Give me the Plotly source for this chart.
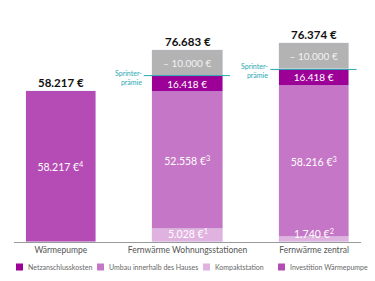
import plotly.graph_objects as go

# ---------------- data ----------------
categories = ["Wärmepumpe", "Fernwärme Wohnungsstationen", "Fernwärme zentral"]
investition_wp = [58217, None, None]
kompaktstation = [None, 5028, 1740]
umbau_haus = [None, 52558, 58216]
netzanschluss = [None, 16418, 16418]
sprinterpraemie = [None, 10000, 10000]
totals = [58217, 76683, 76374]
invest_note = [4, None, None]
umbau_note = [None, 3, 3]
kompakt_note = [None, 1, 2]

legend_names = ["Netzanschlusskosten", "Umbau innerhalb des Hauses",
                "Kompaktstation", "Investition Wärmepumpe"]

# ---------------- style ----------------
C_NETZ = "#9c0096"
C_UMBAU = "#c676c6"
C_KOMPAKT = "#e0b2e0"
C_WP = "#b54cb5"
C_GRAY = "#b3b3b3"
C_TEAL = "#2aa8b3"
FONT = "Lato"

W, H = 375, 281
ML, MR, MT, MB = 14, 14, 0, 39
PW, PH = W - ML - MR, H - MT - MB


def eur(v):
    return f"{v:,}".replace(",", ".") + " €"


def px_x(px):
    return (px - ML) / PW


def px_y(py):
    return (H - MB - py) / PH


x_all = list(range(len(categories)))
z = lambda v: 0 if v is None else v
netz_net = [None if n is None else n - s for n, s in zip(netzanschluss, sprinterpraemie)]
stack_top = [z(a) + z(b) + z(c) + z(d) + z(e) for a, b, c, d, e in
             zip(investition_wp, kompaktstation, umbau_haus, netz_net, sprinterpraemie)]
sprinter_level = [z(b) + z(c) + z(d) for b, c, d in zip(kompaktstation, umbau_haus, netz_net)]

BW = 0.555
fig = go.Figure()


def add_series(values, color, name, labels=None, font=None):
    idx = [i for i, v in enumerate(values) if v is not None]
    kw = dict(x=idx, y=[values[i] for i in idx], marker_color=color, name=name,
              width=BW, showlegend=False, hoverinfo="skip")
    if labels is not None:
        kw.update(text=[labels[i] for i in idx], textposition="inside",
                  insidetextanchor="middle", constraintext="none", textangle=0,
                  textfont=font)
    else:
        kw.update(textposition="none")
    fig.add_trace(go.Bar(**kw))


lab_font = lambda s, c="white": dict(color=c, size=s, family=FONT)

add_series(kompaktstation, C_KOMPAKT, legend_names[2])
add_series(umbau_haus, C_UMBAU, legend_names[1],
           [None if v is None else f"{eur(v)}<sup>{n}</sup>" for v, n in zip(umbau_haus, umbau_note)],
           lab_font(10.5))
add_series(netz_net, C_NETZ, legend_names[0],
           [None if v is None else eur(v) for v in netzanschluss], lab_font(10))
add_series(sprinterpraemie, C_GRAY, "Sprinterprämie",
           [None if v is None else "– " + eur(v) for v in sprinterpraemie], lab_font(10, "#f2f2f2"))
add_series(investition_wp, C_WP, legend_names[3],
           [None if v is None else f"{eur(v)}<sup>{n}</sup>" for v, n in zip(investition_wp, invest_note)],
           lab_font(10.5))

annotations = []
shapes = []
# totals
for i, t in enumerate(totals):
    annotations.append(dict(x=i, y=stack_top[i], xref="x", yref="y", yanchor="bottom",
                            text=f"<b>{eur(t)}</b>", showarrow=False, yshift=0,
                            font=dict(size=11.5, color="#111", family=FONT)))
# kompakt labels
for i, v in enumerate(kompaktstation):
    if v is None:
        continue
    annotations.append(dict(x=i, y=0, xref="x", yref="y", yanchor="bottom",
                            text=f"{eur(v)}<sup>{kompakt_note[i]}</sup>", showarrow=False,
                            yshift=0, font=lab_font(10.5)))
# Sprinterprämie markers
for i, s in enumerate(sprinterpraemie):
    if s is None:
        continue
    lvl = sprinter_level[i]
    shapes.append(dict(type="line", xref="x", yref="y", x0=i - 0.345, x1=i + 0.335,
                       y0=lvl, y1=lvl, line=dict(color=C_TEAL, width=1)))
    annotations.append(dict(x=i - 0.345, y=lvl, xref="x", yref="y", xanchor="right",
                            yanchor="middle", align="right", yshift=-1.5,
                            text="Sprinter-<br>prämie", showarrow=False,
                            font=dict(size=7, color=C_TEAL, family=FONT)))

# manual legend
leg_colors = [C_NETZ, C_UMBAU, C_KOMPAKT, C_WP]
leg_x = [16, 97, 203, 278]
leg_y = 267
for name, col, lx in zip(legend_names, leg_colors, leg_x):
    shapes.append(dict(type="rect", xref="paper", yref="paper",
                       x0=px_x(lx), x1=px_x(lx + 7), y0=px_y(leg_y + 3.5), y1=px_y(leg_y - 3.5),
                       fillcolor=col, line=dict(width=0)))
    annotations.append(dict(x=px_x(lx + 9.5), y=px_y(leg_y), xref="paper", yref="paper",
                            xanchor="left", yanchor="middle", text=name, showarrow=False,
                            font=dict(size=7, color="#666", family=FONT)))

fig.update_layout(
    width=W, height=H, barmode="stack", bargap=0,
    margin=dict(l=ML, r=MR, t=MT, b=MB),
    paper_bgcolor="white", plot_bgcolor="white",
    font=dict(family=FONT),
    annotations=annotations, shapes=shapes,
    xaxis=dict(range=[-0.3705, 2.3705], tickvals=x_all, ticktext=categories,
               tickfont=dict(size=8.5, color="#555", family=FONT),
               showline=True, linecolor="#9a9a9a", linewidth=1, ticks="",
               showgrid=False, zeroline=False, fixedrange=True),
    yaxis=dict(range=[0, PH / 0.0026], visible=False, showgrid=False, fixedrange=True),
)

fig.write_html("out.html", config={"displayModeBar": False})
